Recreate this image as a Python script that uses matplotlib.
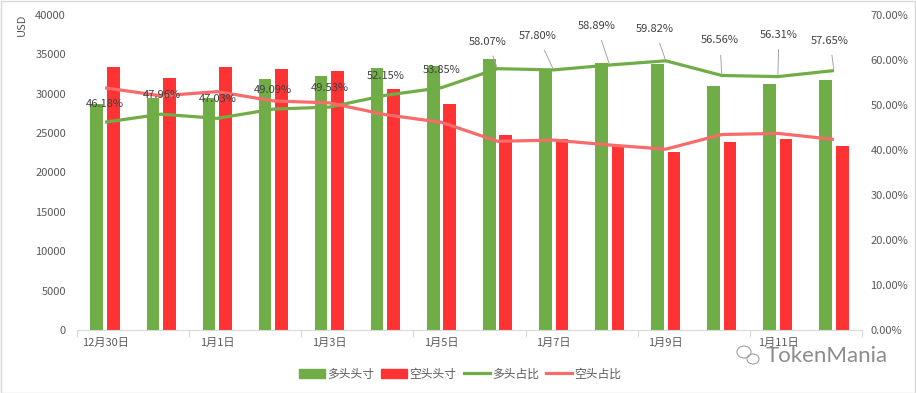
import matplotlib
matplotlib.use("Agg")
import matplotlib.pyplot as plt
import numpy as np
from matplotlib.patches import Rectangle, Ellipse
from matplotlib.lines import Line2D

plt.rcParams['font.family'] = ['Noto Sans CJK SC', 'DejaVu Sans']

categories = ['12月30日', '12月31日', '1月1日', '1月2日', '1月3日', '1月4日', '1月5日',
              '1月6日', '1月7日', '1月8日', '1月9日', '1月10日', '1月11日', '1月12日']
long_pos = [28700, 29500, 29400, 31850, 32200, 33250, 33500,
            34400, 33100, 33900, 33800, 30950, 31200, 31700]
short_pos = [33400, 32000, 33400, 33100, 32850, 30550, 28700,
             24700, 24200, 23400, 22550, 23850, 24200, 23350]
long_pct = [46.18, 47.96, 47.03, 49.09, 49.53, 52.15, 53.85,
            58.07, 57.80, 58.89, 59.82, 56.56, 56.31, 57.65]
short_pct = [53.82, 52.04, 52.97, 50.91, 50.47, 47.85, 46.15,
             41.93, 42.20, 41.11, 40.18, 43.44, 43.69, 42.35]
y_ticks = [0, 5000, 10000, 15000, 20000, 25000, 30000, 35000, 40000]
pct_ticks = [0, 10, 20, 30, 40, 50, 60, 70]
series_names = ['多头头寸', '空头头寸', '多头占比', '空头占比']

# label offsets in pixels (dx, dy) relative to each point
label_offsets = [(0, 18), (1, 19), (1, 19), (0, 19), (0, 19), (0, 19), (0, 18),
                 (-10, 27), (-16, 34), (-13, 39), (-11, 32), (-2, 35), (1, 42), (-4, 30)]

GREEN = '#70AD47'
RED = '#FF3333'
RED_LINE = '#F76B6B'
TXT = '#595959'

W, H = 916, 393
fig = plt.figure(figsize=(W / 100, H / 100), dpi=100)
ax = fig.add_axes([77 / W, (H - 330) / H, (862 - 77) / W, (330 - 15) / H])

n = len(categories)
x = np.arange(n)
bw = 0.225
gap = 0.035
ax.bar(x - (bw / 2 + gap), long_pos, width=bw, color=GREEN, zorder=2)
ax.bar(x + (bw / 2 + gap), short_pos, width=bw, color=RED, zorder=2)
ax.set_xlim(-0.5, n - 0.5)
ax.set_ylim(0, 40000)
ax.set_yticks(y_ticks)
ax.set_yticklabels([str(v) for v in y_ticks], fontsize=8, color=TXT)
ax.tick_params(axis='y', length=0, pad=8)

ax.set_xticks(x[::2])
ax.set_xticklabels(categories[::2], fontsize=8, color=TXT)
ax.set_xticks(np.arange(-0.5, n, 2), minor=True)
ax.tick_params(axis='x', which='major', length=0, pad=6)
ax.tick_params(axis='x', which='minor', length=5, color='#D9D9D9', width=0.8)

for s in ['top', 'right', 'left']:
    ax.spines[s].set_visible(False)
ax.spines['bottom'].set_color('#D9D9D9')
ax.spines['bottom'].set_linewidth(0.8)

ax.set_ylabel('USD', fontsize=8, color=TXT)
ax.yaxis.set_label_coords(-50 / (862 - 77), 1.0 - 10 / 315)

ax2 = ax.twinx()
ax2.set_ylim(0, 70)
ax2.set_yticks(pct_ticks)
ax2.set_yticklabels([f'{v:.2f}%' for v in pct_ticks], fontsize=8, color=TXT)
ax2.tick_params(axis='y', length=0, pad=6)
for s in ['top', 'right', 'left', 'bottom']:
    ax2.spines[s].set_visible(False)

ax2.plot(x, long_pct, color=GREEN, lw=2.3, zorder=3, solid_capstyle='butt')
ax2.plot(x, short_pct, color=RED_LINE, lw=2.3, zorder=3, solid_capstyle='butt')

for i, v in enumerate(long_pct):
    dx, dy = label_offsets[i]
    lead = dy > 24
    ax2.annotate(f'{v:.2f}%', xy=(x[i], v), xytext=(dx * 0.72, dy * 0.72),
                 textcoords='offset points', ha='center', va='center',
                 fontsize=8, color='#404040', zorder=5,
                 arrowprops=dict(arrowstyle='-', color='#A6A6A6', lw=0.7,
                                 shrinkA=5, shrinkB=1) if lead else None)

handles = [Rectangle((0, 0), 1, 1, color=GREEN), Rectangle((0, 0), 1, 1, color=RED),
           Line2D([], [], color=GREEN, lw=2.3), Line2D([], [], color=RED_LINE, lw=2.3)]
fig.legend(handles, series_names, loc='center', bbox_to_anchor=(460 / W, 1 - 374 / H),
           ncol=4, frameon=False, fontsize=8.5, handlelength=2.2, handleheight=0.8,
           handletextpad=0.2, columnspacing=0.6, labelcolor=TXT)

# watermark
fig.text(766 / W, 1 - 356 / H, 'TokenMania', fontsize=16, color='#8C8C8C',
         family=['Lato', 'DejaVu Sans'], va='center', ha='left')
fig.patches.append(Ellipse((744 / W, 1 - 352 / H), 14 / W, 12 / H, transform=fig.transFigure,
                           fill=False, ec='#A0A0A0', lw=0.8))
fig.patches.append(Ellipse((753 / W, 1 - 359 / H), 12 / W, 10 / H, transform=fig.transFigure,
                           fill=False, ec='#A0A0A0', lw=0.8))

fig.patches.append(Rectangle((0.5 / W, 0.5 / H), 1 - 1.5 / W, 1 - 1.5 / H,
                             transform=fig.transFigure, fill=False, ec='#D9D9D9', lw=1.0))

fig.savefig('out.png', dpi=100)
